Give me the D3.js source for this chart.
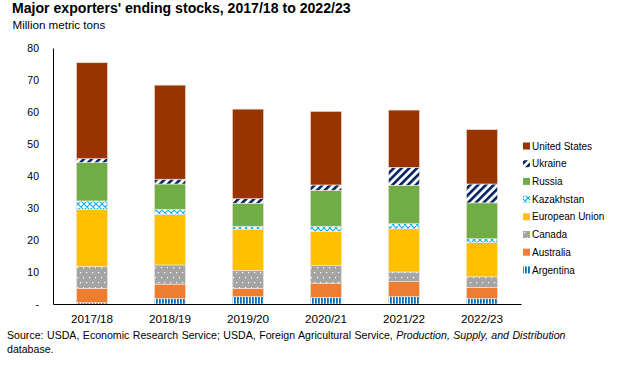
<!DOCTYPE html>
<html>
<head>
<meta charset="utf-8">
<script src="https://cdn.jsdelivr.net/npm/d3@7"></script>
<style>
  html, body { margin: 0; padding: 0; background: #fff; }
  svg { display: block; font-family: "Liberation Sans", Arial, sans-serif; }
</style>
</head>
<body>
<svg id="chart" width="618" height="365"></svg>
<script>
// ---- Data ----
const categories = ["2017/18", "2018/19", "2019/20", "2020/21", "2021/22", "2022/23"];
const argentina    = [0.4, 1.7, 2.3, 2.1, 2.3, 1.7];
const australia    = [4.5, 4.5, 2.6, 4.4, 4.7, 3.5];
const canada       = [6.8, 6.0, 5.6, 5.6, 3.0, 3.3];
const europeanUnion= [17.8, 15.7, 12.9, 10.6, 13.5, 10.7];
const kazakhstan   = [2.7, 1.7, 0.9, 1.6, 1.6, 1.2];
const russia       = [12.0, 7.9, 7.2, 11.2, 12.0, 11.2];
const ukraine      = [1.2, 1.5, 1.4, 1.7, 5.6, 5.9];
const unitedStates = [30.0, 29.4, 28.0, 23.0, 17.9, 17.0];
const yTicks = [0, 10, 20, 30, 40, 50, 60, 70, 80];

const seriesNames = ["Argentina", "Australia", "Canada", "European Union", "Kazakhstan", "Russia", "Ukraine", "United States"];
const seriesValues = [argentina, australia, canada, europeanUnion, kazakhstan, russia, ukraine, unitedStates];
const fills = {
  "Argentina": "url(#pArg)",
  "Australia": "#ED7D31",
  "Canada": "url(#pCan)",
  "European Union": "#FFC000",
  "Kazakhstan": "url(#pKaz)",
  "Russia": "#70AD47",
  "Ukraine": "url(#pUkr)",
  "United States": "#993300"
};

const rows = categories.map((c, i) => {
  const r = { cat: c };
  seriesNames.forEach((s, j) => r[s] = seriesValues[j][i]);
  return r;
});
const stacked = d3.stack().keys(seriesNames)(rows);

const svg = d3.select("#chart");
const defs = svg.append("defs");

// Patterns
const pArg = defs.append("pattern").attr("id", "pArg").attr("patternUnits", "userSpaceOnUse")
  .attr("width", 3).attr("height", 3);
pArg.append("rect").attr("width", 3).attr("height", 3).attr("fill", "#fff");
pArg.append("rect").attr("width", 1.8).attr("height", 3).attr("fill", "#0070C0");

const pCan = defs.append("pattern").attr("id", "pCan").attr("patternUnits", "userSpaceOnUse")
  .attr("width", 12).attr("height", 10);
pCan.append("rect").attr("width", 12).attr("height", 10).attr("fill", "#A5A5A5");
[[2, 2], [8, 2], [5, 7], [11, 7]].forEach(([x, y]) =>
  pCan.append("rect").attr("x", x).attr("y", y).attr("width", 1.2).attr("height", 1.2).attr("fill", "#fff"));

const pKaz = defs.append("pattern").attr("id", "pKaz").attr("patternUnits", "userSpaceOnUse")
  .attr("width", 6).attr("height", 6);
pKaz.append("rect").attr("width", 6).attr("height", 6).attr("fill", "#fff");
pKaz.append("path").attr("d", "M0,0 L6,6 M6,0 L0,6 M-1,5 L1,7 M5,-1 L7,1 M-1,1 L1,-1 M5,7 L7,5")
  .attr("stroke", "#00B0F0").attr("stroke-width", 1.1).attr("fill", "none");

const pUkr = defs.append("pattern").attr("id", "pUkr").attr("patternUnits", "userSpaceOnUse")
  .attr("width", 5.5).attr("height", 5.5).attr("patternTransform", "rotate(45)");
pUkr.append("rect").attr("width", 5.5).attr("height", 5.5).attr("fill", "#fff");
pUkr.append("rect").attr("width", 2.6).attr("height", 5.5).attr("fill", "#002060");

// Scales
const x = d3.scaleBand().domain(categories).range([53, 521]).paddingInner(0.6).paddingOuter(0.3);
const y = d3.scaleLinear().domain([0, 80]).range([304, 48]);

// Title
svg.append("text").attr("x", 12).attr("y", 13).attr("font-size", 14.1).attr("font-weight", "bold")
  .attr("fill", "#000").text("Major exporters' ending stocks, 2017/18 to 2022/23");
svg.append("text").attr("x", 12.5).attr("y", 29.3).attr("font-size", 11.6).attr("fill", "#000")
  .text("Million metric tons");

// Bars
svg.append("g").selectAll("g").data(stacked).join("g")
  .attr("fill", d => fills[d.key])
  .selectAll("rect").data(d => d).join("rect")
  .attr("x", d => x(d.data.cat))
  .attr("width", x.bandwidth())
  .attr("y", d => y(d[1]))
  .attr("height", d => y(d[0]) - y(d[1]))
  .attr("stroke", "#f4e6e0").attr("stroke-width", 0.6);

// Y axis
const yAxis = d3.axisLeft(y).tickValues(yTicks).tickSize(0).tickPadding(14)
  .tickFormat(d => d === 0 ? "-" : d);
const gy = svg.append("g").attr("transform", "translate(53,0)").call(yAxis);
gy.select(".domain").attr("stroke", "#000").attr("stroke-width", 1);
gy.selectAll("text").attr("font-size", 10.5).attr("fill", "#000")
  .attr("font-family", "'Liberation Sans', Arial, sans-serif");

// X axis
const xAxis = d3.axisBottom(x).tickSize(0).tickPadding(11);
const gx = svg.append("g").attr("transform", "translate(0,304)").call(xAxis);
gx.select(".domain").attr("stroke", "#000").attr("stroke-width", 1.2);
gx.selectAll("text").attr("font-size", 11.7).attr("fill", "#000")
  .attr("font-family", "'Liberation Sans', Arial, sans-serif");

// Legend (top to bottom: United States ... Argentina)
const legendOrder = seriesNames.slice().reverse();
const lg = svg.append("g");
legendOrder.forEach((name, i) => {
  const cy = 146 + i * 17.7;
  lg.append("rect").attr("x", 523).attr("y", cy - 3.5).attr("width", 7).attr("height", 7)
    .attr("fill", fills[name]);
  lg.append("text").attr("x", 532).attr("y", cy + 3.6).attr("font-size", 10).attr("fill", "#000")
    .text(name);
});

// Source (justified first line)
const src = svg.append("text").attr("x", 7).attr("y", 339.3).attr("font-size", 10.6).attr("fill", "#000");
src.append("tspan").text("Source: USDA, Economic Research Service; USDA, Foreign Agricultural Service, ");
src.append("tspan").attr("font-style", "italic").text("Production, Supply, and Distribution");
const natural = src.node().getComputedTextLength();
const nSpaces = 13;
const extra = (566 - 7) - natural;
if (extra > 0) src.attr("word-spacing", extra / nSpaces);
svg.append("text").attr("x", 7).attr("y", 353.3).attr("font-size", 10.6).attr("fill", "#000").text("database.");
</script>
</body>
</html>
